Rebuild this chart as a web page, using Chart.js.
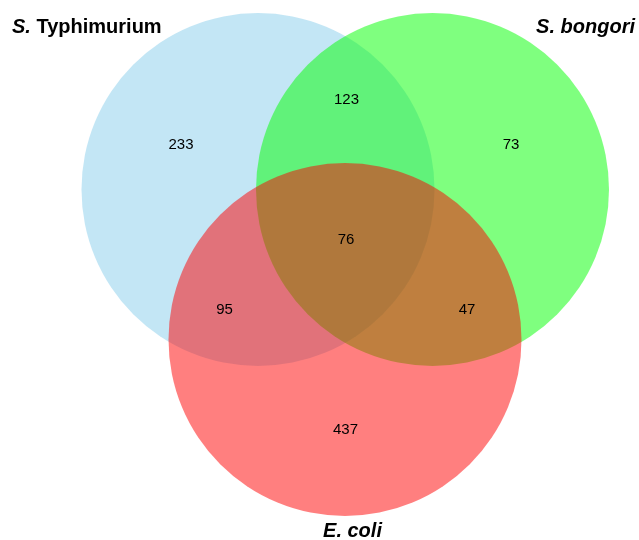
<!DOCTYPE html>
<html>
<head>
<meta charset="utf-8">
<script src="https://cdn.jsdelivr.net/npm/chart.js@4.4.0/dist/chart.umd.min.js"></script>
<style>
    body { margin: 0; background: #ffffff; }
    #grafico { display: block; }
</style>
</head>
<body>
<canvas id="grafico" width="639" height="540"></canvas>
<script>
// Conjuntos (circulos do Venn)
const conjuntos = ['S. Typhimurium', 'S. bongori', 'E. coli'];
const centroX = [258, 432.5, 345];
const centroY = [189.5, 189.5, 339.5];
const raio = [176.5, 176.5, 176.5];
const coresConjunto = ['rgba(135, 206, 235, 0.5)', 'rgba(0, 255, 0, 0.5)', 'rgba(255, 0, 0, 0.5)'];
const ordemDesenho = [3, 2, 1]; // o de maior ordem fica por baixo

// Nomes dos conjuntos: parte italica + parte normal
const nomeItalico = ['S.', 'S. bongori', 'E. coli'];
const nomeNormal = [' Typhimurium', '', ''];
const nomeX = [12, 635, 352.5];
const nomeY = [33, 33, 537];
const nomeAlinhamento = ['left', 'right', 'center'];

// Contagens de cada regiao
const regioes = ['S. Typhimurium', 'S. Typhimurium & S. bongori', 'S. bongori', 'todos', 'S. Typhimurium & E. coli', 'S. bongori & E. coli', 'E. coli'];
const contagens = [233, 123, 73, 76, 95, 47, 437];
const contagemX = [181, 346.5, 511, 346, 224.5, 467, 345.5];
const contagemY = [145, 100, 145, 240, 310, 310, 430];

const fonte = '"Liberation Sans", Arial, Helvetica, sans-serif';

// desenha os textos (numeros e nomes)
const pluginTextos = {
    id: 'textosVenn',
    afterDatasetsDraw(chart) {
        const ctx = chart.ctx;
        const x = chart.scales.x;
        const y = chart.scales.y;
        ctx.save();
        ctx.fillStyle = '#000000';

        ctx.font = '15px ' + fonte;
        ctx.textAlign = 'center';
        ctx.textBaseline = 'middle';
        for (let i = 0; i < contagens.length; i++) {
            ctx.fillText(String(contagens[i]), x.getPixelForValue(contagemX[i]), y.getPixelForValue(contagemY[i]));
        }

        ctx.textBaseline = 'alphabetic';
        ctx.textAlign = 'left';
        const fonteItalica = 'italic bold 20px ' + fonte;
        const fonteNormal = 'bold 20px ' + fonte;
        for (let i = 0; i < conjuntos.length; i++) {
            ctx.font = fonteItalica;
            const w1 = ctx.measureText(nomeItalico[i]).width;
            ctx.font = fonteNormal;
            const w2 = ctx.measureText(nomeNormal[i]).width;
            let px = x.getPixelForValue(nomeX[i]);
            const py = y.getPixelForValue(nomeY[i]);
            if (nomeAlinhamento[i] === 'right') px -= (w1 + w2);
            if (nomeAlinhamento[i] === 'center') px -= (w1 + w2) / 2;
            ctx.font = fonteItalica;
            ctx.fillText(nomeItalico[i], px, py);
            ctx.font = fonteNormal;
            ctx.fillText(nomeNormal[i], px + w1, py);
        }
        ctx.restore();
    }
};

const dados = {
    datasets: conjuntos.map((nome, i) => ({
        label: nome,
        order: ordemDesenho[i],
        data: [{ x: centroX[i], y: centroY[i], r: raio[i] }],
        backgroundColor: coresConjunto[i],
        borderWidth: 0,
        hoverBackgroundColor: coresConjunto[i],
        hoverBorderWidth: 0,
        hoverRadius: 0,
        clip: false
    }))
};

const config = {
    type: 'bubble',
    data: dados,
    options: {
        responsive: false,
        devicePixelRatio: 1,
        animation: false,
        layout: { padding: 0, autoPadding: false },
        events: [],
        scales: {
            x: { type: 'linear', min: 0, max: 639, display: false },
            y: { type: 'linear', min: 0, max: 540, reverse: true, display: false }
        },
        plugins: {
            legend: { display: false },
            tooltip: { enabled: false }
        }
    },
    plugins: [pluginTextos]
};

const grafico = new Chart(document.getElementById('grafico'), config);
</script>
</body>
</html>
